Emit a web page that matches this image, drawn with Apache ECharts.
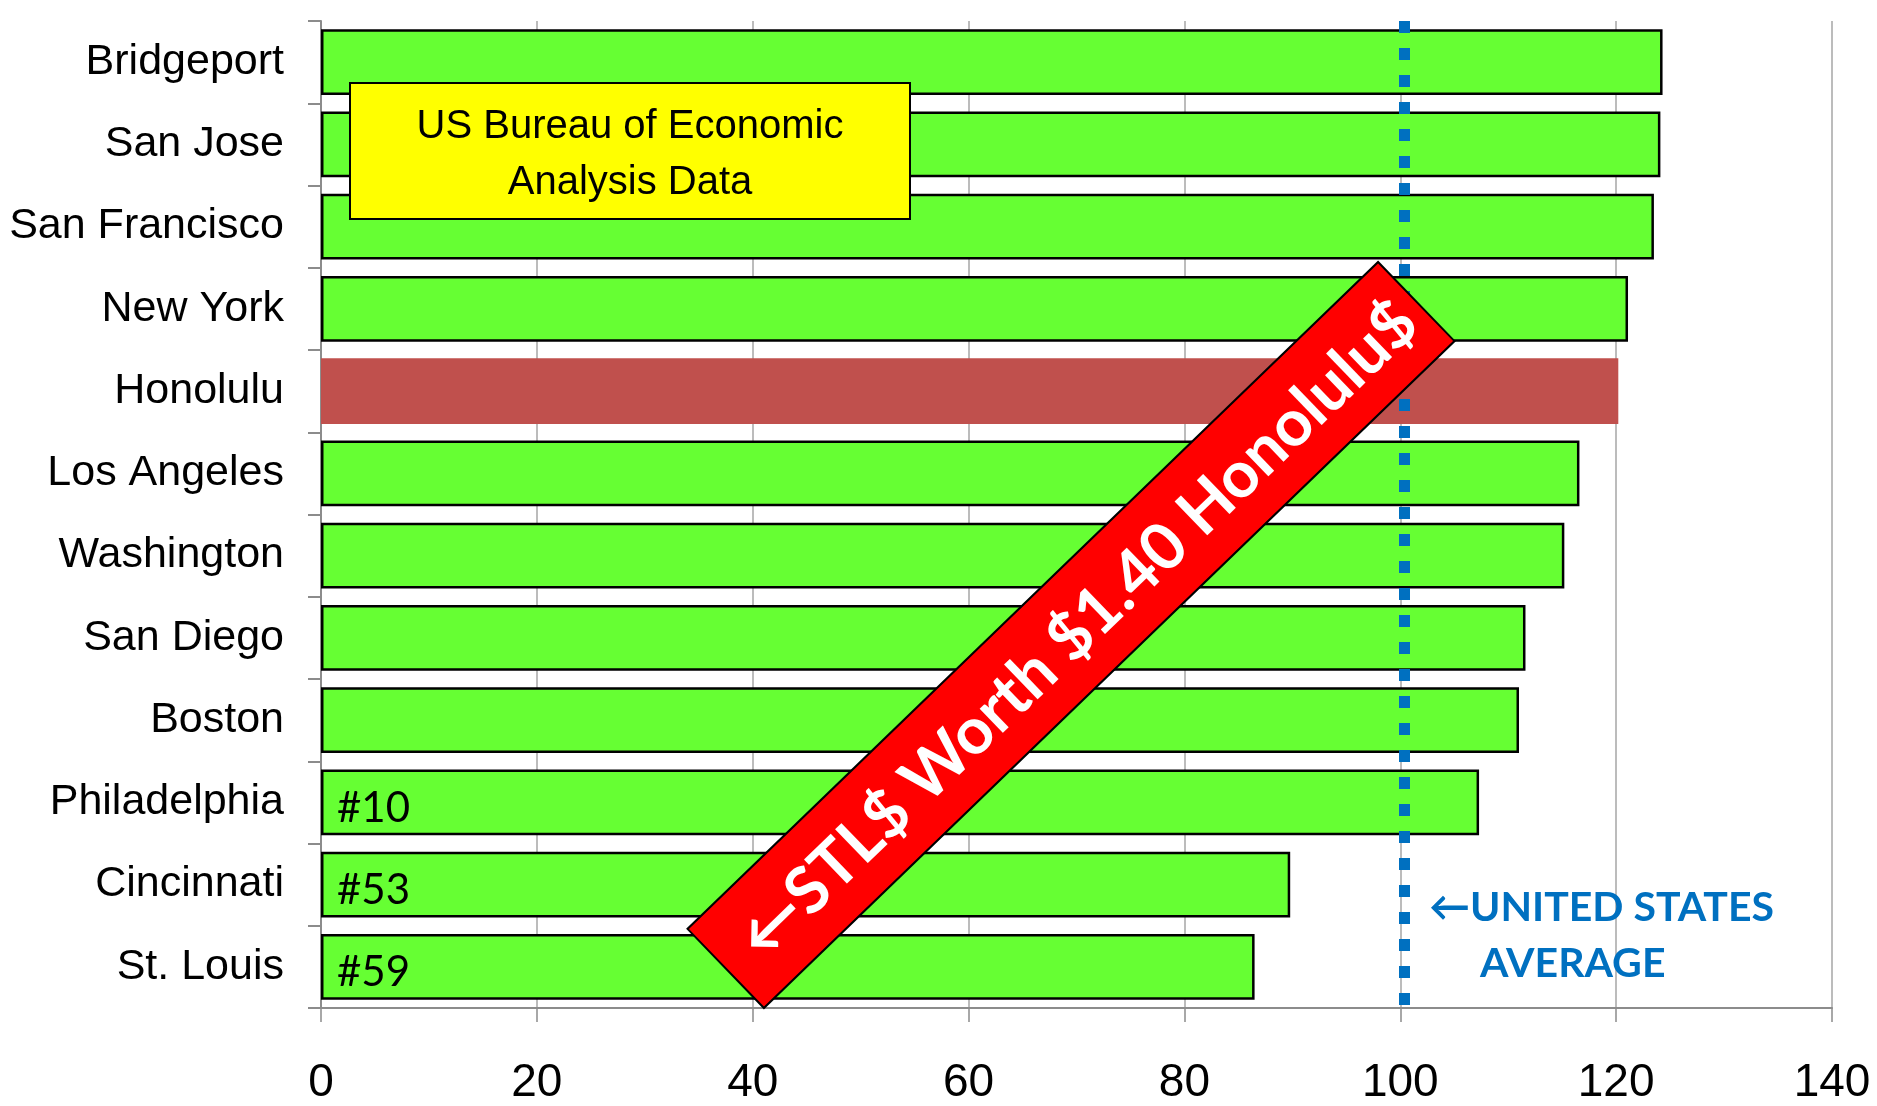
<!DOCTYPE html>
<html>
<head>
<meta charset="utf-8">
<script src="https://cdn.jsdelivr.net/npm/echarts@6/dist/echarts.min.js"></script>
<style>
  html, body { margin: 0; padding: 0; background: #fff; }
  #main { width: 1877px; height: 1106px; }
</style>
</head>
<body>
<div id="main"></div>
<script>
// cities, top to bottom
var cities = ['Bridgeport', 'San Jose', 'San Francisco', 'New York', 'Honolulu', 'Los Angeles',
  'Washington', 'San Diego', 'Boston', 'Philadelphia', 'Cincinnati', 'St. Louis'];
// regional price parity (US = 100)
var parity = [124.3, 124.1, 123.5, 121.1, 120.2, 116.6, 115.2, 111.6, 111.0, 107.3, 89.8, 86.5];
var ranks = ['', '', '', '', '', '', '', '', '', '#10', '#53', '#59'];
var xTicks = [0, 20, 40, 60, 80, 100, 120, 140];
var highlightCity = 'Honolulu';
var usAverageLine = 100.4;

var chartDom = document.getElementById('main');
var myChart = echarts.init(chartDom);
var option;

var barData = parity.map(function (v, i) {
  var item = { value: v, rank: ranks[i] };
  if (cities[i] === highlightCity) {
    item.itemStyle = { color: '#C0504D', borderWidth: 0 };
  }
  return item;
});

option = {
  animation: false,
  backgroundColor: '#ffffff',
  grid: { left: 321, top: 21, right: 45, bottom: 95 },
  xAxis: {
    type: 'value',
    min: xTicks[0],
    max: xTicks[xTicks.length - 1],
    interval: xTicks[1] - xTicks[0],
    axisLine: { show: true, lineStyle: { color: '#8c8c8c', width: 2 } },
    axisTick: { show: true, length: 14, lineStyle: { color: '#8c8c8c', width: 1.5 } },
    splitLine: { show: true, lineStyle: { color: '#a6a6a6', width: 1.5 } },
    axisLabel: { fontFamily: 'Liberation Sans', fontSize: 46, color: '#000', margin: 52 }
  },
  yAxis: {
    type: 'category',
    inverse: true,
    data: cities,
    axisLine: { show: true, lineStyle: { color: '#8c8c8c', width: 2 } },
    axisTick: { show: true, length: 13, lineStyle: { color: '#8c8c8c', width: 2 } },
    splitLine: { show: false },
    axisLabel: { fontFamily: 'Liberation Sans', fontSize: 43, color: '#000', margin: 37,
      padding: [6, 0, 0, 0] }
  },
  series: [
    {
      type: 'bar',
      data: barData,
      barCategoryGap: '20%',
      itemStyle: { color: '#66FF33', borderColor: '#000', borderWidth: 2.5 },
      label: {
        show: true,
        position: 'insideLeft',
        distance: 16,
        offset: [0, 6],
        fontFamily: 'Lato',
        fontSize: 42,
        color: '#000',
        formatter: function (p) { return p.data.rank; }
      },
      markLine: {
        silent: true,
        symbol: 'none',
        label: { show: false },
        lineStyle: { color: '#0070C0', width: 11, type: [12, 15], opacity: 1 },
        data: [{ xAxis: usAverageLine }]
      }
    }
  ],
  graphic: [
    {
      type: 'rect', z: 100,
      shape: { x: 350, y: 83, width: 560, height: 136 },
      style: { fill: '#FFFF00', stroke: '#000', lineWidth: 2 }
    },
    {
      type: 'text', z: 101, x: 630, y: 127,
      style: { text: 'US Bureau of Economic', fontFamily: 'Liberation Sans', fontSize: 40,
        fill: '#000', align: 'center', verticalAlign: 'middle' }
    },
    {
      type: 'text', z: 101, x: 630, y: 183,
      style: { text: 'Analysis Data', fontFamily: 'Liberation Sans', fontSize: 40,
        fill: '#000', align: 'center', verticalAlign: 'middle' }
    },
    {
      type: 'group', z: 110, x: 1071, y: 635, rotation: 44 * Math.PI / 180,
      children: [
        {
          type: 'rect', z: 110,
          shape: { x: -480, y: -55, width: 960, height: 110 },
          style: { fill: '#FF0000', stroke: '#000', lineWidth: 2 }
        },
        {
          type: 'text', z: 111, x: 8, y: 2,
          style: { text: '\u2190STL$ Worth $1.40 Honolulu$', fontFamily: 'Lato', fontWeight: 'bold',
            fontSize: 65, fill: '#fff', align: 'center', verticalAlign: 'middle' }
        }
      ]
    },
    {
      type: 'text', z: 101, x: 1429, y: 908,
      style: { text: '\u2190UNITED STATES', fontFamily: 'Lato', fontWeight: 'bold', fontSize: 41,
        fill: '#0070C0', align: 'left', verticalAlign: 'middle' }
    },
    {
      type: 'text', z: 101, x: 1480, y: 964,
      style: { text: 'AVERAGE', fontFamily: 'Lato', fontWeight: 'bold', fontSize: 41,
        fill: '#0070C0', align: 'left', verticalAlign: 'middle' }
    }
  ]
};

option && myChart.setOption(option);
</script>
</body>
</html>
